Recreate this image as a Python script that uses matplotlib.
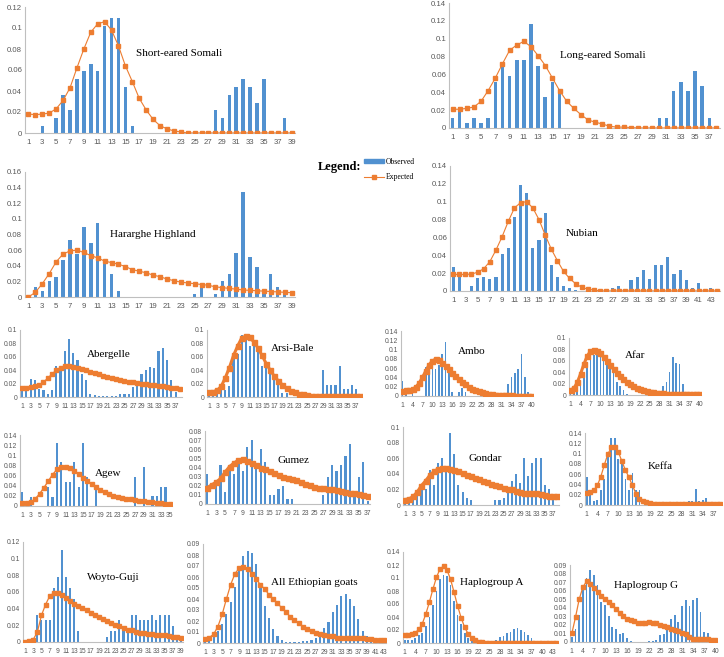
#!/usr/bin/env python3
import matplotlib
matplotlib.use("Agg")
import matplotlib.pyplot as plt
from matplotlib.lines import Line2D
from matplotlib.patches import Patch

# observed / expected mismatch distributions
short_obs = [0, 0, 0.007, 0, 0.014, 0.036, 0.022, 0.051, 0.059, 0.066, 0.059, 0.102, 0.110, 0.110, 0.044, 0.007,
             0, 0, 0, 0, 0, 0, 0, 0, 0, 0, 0,
             0.022, 0.014, 0.036, 0.044, 0.051, 0.044, 0.029, 0.051, 0, 0, 0.014, 0]
short_exp = [0.018, 0.0175, 0.018, 0.019, 0.023, 0.031, 0.043, 0.062, 0.080, 0.096, 0.104, 0.106, 0.098, 0.083,
             0.064, 0.049, 0.033, 0.022, 0.013, 0.007, 0.004, 0.002, 0.001,
             0, 0, 0, 0, 0, 0, 0, 0, 0, 0, 0, 0, 0, 0, 0, 0]

long_obs = [0.011, 0.023, 0.0055, 0.011, 0.0055, 0.011, 0.052, 0.070, 0.058, 0.076, 0.076, 0.117, 0.070, 0.035,
            0.052, 0.041, 0, 0, 0, 0, 0, 0, 0, 0, 0, 0, 0, 0, 0,
            0.011, 0.011, 0.041, 0.052, 0.041, 0.064, 0.047, 0.011, 0]
long_exp = [0.021, 0.021, 0.022, 0.0235, 0.030, 0.042, 0.056, 0.072, 0.087, 0.093, 0.097, 0.091, 0.081, 0.070,
            0.056, 0.042, 0.030, 0.022, 0.015, 0.009, 0.0065, 0.0045, 0.002, 0.001, 0.001, 0.0005,
            0, 0, 0, 0, 0, 0, 0, 0, 0, 0, 0, 0]

harar_obs = [0, 0.013, 0.008, 0.021, 0.025, 0.047, 0.073, 0.055, 0.090, 0.069, 0.095, 0.042, 0.030, 0.008,
             0, 0, 0, 0, 0, 0, 0, 0, 0, 0,
             0.004, 0.017, 0, 0.004, 0.021, 0.030, 0.056, 0.134, 0.051, 0.038, 0.008, 0.030, 0.013, 0.004, 0]
harar_exp = [0.0, 0.006, 0.017, 0.030, 0.045, 0.055, 0.059, 0.060, 0.057, 0.053, 0.050, 0.046, 0.044, 0.042,
             0.039, 0.035, 0.033, 0.031, 0.028, 0.026, 0.023, 0.021, 0.019, 0.018, 0.017, 0.016, 0.015, 0.013,
             0.012, 0.011, 0.010, 0.009, 0.0085, 0.008, 0.0075, 0.007, 0.0065, 0.006, 0.0055]

nubian_obs = [0.027, 0.019, 0, 0.006, 0.015, 0.016, 0.013, 0.016, 0.041, 0.048, 0.083, 0.119, 0.110, 0.048,
              0.057, 0.087, 0.029, 0.016, 0.006, 0.003, 0.001, 0, 0, 0, 0, 0, 0.003, 0.006, 0, 0.012, 0.016,
              0.024, 0.013, 0.029, 0.029, 0.038, 0.019, 0.024, 0.012, 0.003, 0.009, 0, 0.003, 0]
nubian_exp = [0.0185, 0.0185, 0.0185, 0.019, 0.021, 0.025, 0.033, 0.046, 0.061, 0.078, 0.093, 0.099, 0.100,
              0.093, 0.080, 0.063, 0.047, 0.034, 0.022, 0.014, 0.008, 0.004, 0.002, 0.001,
              0, 0, 0, 0, 0, 0, 0, 0, 0, 0, 0, 0, 0, 0, 0, 0, 0, 0, 0, 0]

aber_obs = [0.010, 0.017, 0.027, 0.025, 0.012, 0.010, 0.005, 0.011, 0.047, 0.045, 0.068, 0.087, 0.065, 0.055,
            0.034, 0.025, 0.005, 0.003, 0.001, 0.001, 0.001, 0.001, 0.002, 0.004, 0.004, 0.004, 0.015, 0.022,
            0.034, 0.040, 0.045, 0.044, 0.068, 0.073, 0.055, 0.026, 0.007, 0.0]
aber_exp = [0.013, 0.014, 0.015, 0.016, 0.018, 0.022, 0.028, 0.034, 0.040, 0.044, 0.046, 0.046, 0.045, 0.044,
            0.042, 0.040, 0.038, 0.036, 0.034, 0.032, 0.030, 0.029, 0.027, 0.026, 0.024, 0.023, 0.022, 0.021,
            0.020, 0.019, 0.018, 0.018, 0.017, 0.016, 0.015, 0.014, 0.013, 0.012]

arsi_obs = [0.006, 0.005, 0.005, 0.013, 0.011, 0.017, 0.056, 0.064, 0.093, 0.086, 0.076, 0.076, 0.070, 0.047,
            0.047, 0.035, 0.029, 0.023, 0.006, 0.006, 0, 0, 0, 0, 0, 0, 0, 0,
            0.041, 0.018, 0.018, 0.018, 0.047, 0.012, 0.012, 0.018, 0.012, 0]
arsi_exp = [0.008, 0.008, 0.010, 0.016, 0.029, 0.044, 0.062, 0.076, 0.088, 0.091, 0.089, 0.082, 0.073, 0.062,
            0.050, 0.040, 0.031, 0.024, 0.018, 0.013, 0.009, 0.007, 0.005, 0.004, 0.003, 0.002, 0.0015, 0.001,
            0.001, 0.001, 0.001, 0.001, 0.001, 0.001, 0.001, 0.001, 0.001, 0.001]

ambo_obs = [0.033, 0.008, 0, 0.008, 0, 0, 0, 0.062, 0.066, 0.058, 0.058, 0.067, 0.091, 0.116, 0.050, 0.008,
            0, 0.008, 0.017, 0.008, 0, 0, 0, 0, 0, 0, 0, 0, 0, 0, 0, 0,
            0.025, 0.041, 0.050, 0.058, 0.091, 0.041, 0.008, 0]
ambo_exp = [0.011, 0.012, 0.013, 0.015, 0.019, 0.028, 0.040, 0.054, 0.067, 0.076, 0.079, 0.077, 0.072, 0.065,
            0.058, 0.050, 0.043, 0.036, 0.030, 0.025, 0.020, 0.016, 0.013, 0.010, 0.008, 0.006, 0.005, 0.004,
            0.003, 0.002, 0.002, 0.002, 0.002, 0.002, 0.001, 0.001, 0.001, 0.001, 0.001, 0.001]

afar_obs = [0.006, 0.010, 0.012, 0.025, 0.037, 0.058, 0.065, 0.070, 0.075, 0.075, 0.077, 0.064, 0.052, 0.040,
            0.022, 0.016, 0.008, 0.002, 0, 0, 0, 0, 0, 0, 0, 0, 0,
            0.002, 0.015, 0.022, 0.040, 0.066, 0.057, 0.055, 0.020, 0.005, 0.003, 0, 0, 0]
afar_exp = [0.009, 0.012, 0.022, 0.037, 0.054, 0.068, 0.077, 0.079, 0.078, 0.073, 0.066, 0.059, 0.052, 0.045,
            0.039, 0.033, 0.028, 0.023, 0.019, 0.016, 0.013, 0.011, 0.009, 0.007, 0.006, 0.005, 0.004, 0.004,
            0.003, 0.002, 0.002, 0.002, 0.002, 0.001, 0.001, 0.001, 0.001, 0.001, 0.001, 0.001]

agew_obs = [0.028, 0, 0.018, 0, 0, 0, 0.038, 0.018, 0.124, 0.086, 0.047, 0.047, 0.086, 0.038, 0.124, 0.057,
            0, 0.038, 0, 0, 0, 0, 0, 0, 0, 0, 0.057, 0, 0.076, 0, 0.019, 0.019, 0.038, 0.038, 0]
agew_exp = [0.005, 0.006, 0.008, 0.014, 0.024, 0.036, 0.049, 0.062, 0.072, 0.076, 0.077, 0.075, 0.070, 0.063,
            0.056, 0.049, 0.043, 0.037, 0.031, 0.027, 0.023, 0.020, 0.018, 0.016, 0.014, 0.013, 0.012, 0.010,
            0.009, 0.008, 0.007, 0.006, 0.005, 0.004, 0.003]

gumez_obs = [0.033, 0, 0.020, 0.043, 0.013, 0.040, 0.033, 0.046, 0.036, 0.063, 0.070, 0.040, 0.060, 0.046,
             0.010, 0.010, 0.016, 0.020, 0.006, 0.006, 0, 0, 0, 0, 0, 0,
             0.010, 0.030, 0.043, 0.036, 0.043, 0.053, 0.066, 0.013, 0.030, 0.046, 0.003]
gumez_exp = [0.018, 0.021, 0.024, 0.028, 0.035, 0.041, 0.045, 0.048, 0.049, 0.047, 0.045, 0.043, 0.040, 0.038,
             0.036, 0.034, 0.032, 0.030, 0.028, 0.027, 0.026, 0.024, 0.022, 0.021, 0.019, 0.018, 0.017, 0.016,
             0.016, 0.015, 0.014, 0.013, 0.012, 0.012, 0.011, 0.010, 0.009]

gondar_obs = [0.004, 0.006, 0.010, 0.017, 0.020, 0.020, 0.045, 0.026, 0.054, 0.060, 0.047, 0.092, 0.065, 0.026,
              0.017, 0.009, 0.006, 0, 0, 0, 0, 0, 0.006, 0.006, 0.009, 0.017, 0.031, 0.040, 0.028, 0.060,
              0.037, 0.054, 0.060, 0.060, 0.026, 0.020, 0.011, 0]
gondar_exp = [0.007, 0.008, 0.011, 0.017, 0.025, 0.031, 0.038, 0.043, 0.046, 0.047, 0.047, 0.046, 0.045, 0.043,
              0.041, 0.039, 0.037, 0.035, 0.033, 0.031, 0.029, 0.027, 0.026, 0.024, 0.022, 0.021, 0.020, 0.018,
              0.017, 0.016, 0.016, 0.015, 0.015, 0.014, 0.013, 0.012, 0.011, 0.011]

keffa_obs = [0.054, 0.024, 0.008, 0.010, 0.030, 0.051, 0.094, 0.130, 0.130, 0.090, 0.082, 0.051, 0.030, 0.062,
             0.030, 0.030, 0, 0, 0, 0, 0, 0, 0, 0, 0, 0, 0, 0, 0,
             0.008, 0.008, 0.032, 0.008, 0.010, 0.014, 0, 0, 0, 0]
keffa_exp = [0.024, 0.025, 0.029, 0.038, 0.055, 0.078, 0.099, 0.112, 0.113, 0.103, 0.085, 0.068, 0.054, 0.038,
             0.022, 0.012, 0.008, 0.005, 0.003, 0.002, 0.001, 0.001, 0.001, 0.001, 0.001, 0.001, 0.001, 0.001,
             0.001, 0.001, 0.001, 0.001, 0.001, 0.001, 0.001, 0.001, 0.001, 0.001, 0.001]

woyto_obs = [0, 0, 0, 0.032, 0.026, 0.026, 0.026, 0.065, 0.078, 0.111, 0.078, 0.065, 0.052, 0.013,
             0, 0, 0, 0, 0, 0, 0.006, 0.013, 0.013, 0.026, 0.019, 0.013, 0.032, 0.032, 0.026, 0.026, 0.026,
             0.032, 0.026, 0.032, 0.032, 0.032, 0.019, 0.006, 0.006]
woyto_exp = [0.0, 0.001, 0.003, 0.012, 0.032, 0.045, 0.055, 0.059, 0.059, 0.057, 0.053, 0.049, 0.046, 0.043,
             0.041, 0.038, 0.035, 0.033, 0.030, 0.028, 0.025, 0.023, 0.021, 0.019, 0.017, 0.015, 0.014, 0.012,
             0.011, 0.011, 0.010, 0.010, 0.009, 0.008, 0.008, 0.007, 0.006, 0.006, 0.005]

allet_obs = [0.003, 0.004, 0.007, 0.011, 0.017, 0.026, 0.037, 0.051, 0.068, 0.079, 0.084, 0.082, 0.072, 0.052,
             0.034, 0.023, 0.013, 0.006, 0.003, 0.001, 0.001, 0.001, 0.001, 0.002, 0.002, 0.003, 0.005, 0.008,
             0.014, 0.019, 0.028, 0.035, 0.043, 0.045, 0.040, 0.034, 0.022, 0.011, 0.006, 0.003, 0.002, 0.001,
             0.001]
allet_exp = [0.004, 0.005, 0.008, 0.015, 0.026, 0.040, 0.053, 0.063, 0.068, 0.069, 0.067, 0.063, 0.058, 0.053,
             0.049, 0.044, 0.040, 0.036, 0.032, 0.028, 0.024, 0.021, 0.018, 0.015, 0.013, 0.011, 0.009, 0.008,
             0.007, 0.006, 0.006, 0.005, 0.005, 0.005, 0.005, 0.005, 0.005, 0.005, 0.004, 0.004, 0.003, 0.003,
             0.003]

hapa_obs = [0.004, 0.005, 0.005, 0.008, 0.012, 0.016, 0.026, 0.040, 0.059, 0.080, 0.098, 0.104, 0.103, 0.090,
            0.064, 0.043, 0.029, 0.016, 0.008, 0.004, 0.002, 0.001, 0.001, 0.001, 0.001, 0.003, 0.005, 0.009,
            0.011, 0.015, 0.017, 0.022, 0.023, 0.020, 0.017, 0.012, 0.007, 0.003, 0.001, 0, 0, 0, 0, 0]
hapa_exp = [0.013, 0.013, 0.014, 0.016, 0.021, 0.030, 0.045, 0.063, 0.083, 0.101, 0.114, 0.118, 0.112, 0.098,
            0.078, 0.057, 0.039, 0.024, 0.014, 0.008, 0.004, 0.002, 0.001, 0.0005, 0.0005, 0.0005, 0.0005,
            0.0005, 0.0005, 0.0005, 0.0005, 0.0005, 0.0005, 0.0005, 0.0005, 0.0005, 0.0005, 0.0005, 0.0005,
            0.0005, 0.0005, 0.0005, 0.0005, 0.0005]

hapg_obs = [0.006, 0.015, 0.032, 0.064, 0.075, 0.084, 0.078, 0.067, 0.047, 0.043, 0.030, 0.018, 0.015, 0.009,
            0.010, 0.005, 0.001, 0, 0, 0, 0, 0.001, 0.001, 0.002, 0.008, 0.009, 0.019, 0.027, 0.032, 0.023,
            0.042, 0.049, 0.042, 0.049, 0.051, 0.035, 0.012, 0.010, 0, 0]
hapg_exp = [0.010, 0.029, 0.050, 0.064, 0.071, 0.068, 0.063, 0.058, 0.054, 0.050, 0.047, 0.043, 0.038, 0.034,
            0.030, 0.027, 0.026, 0.024, 0.022, 0.022, 0.022, 0.023, 0.022, 0.022, 0.020, 0.019, 0.017, 0.015,
            0.014, 0.013, 0.011, 0.009, 0.006, 0.004, 0.003, 0.003, 0.003, 0.003, 0.002, 0.002]

names = ["Short-eared Somali", "Long-eared Somali", "Hararghe Highland", "Nubian",
         "Abergelle", "Arsi-Bale", "Ambo", "Afar",
         "Agew", "Gumez", "Gondar", "Keffa",
         "Woyto-Guji", "All Ethiopian goats", "Haplogroup A", "Haplogroup G"]
observed = [short_obs, long_obs, harar_obs, nubian_obs, aber_obs, arsi_obs, ambo_obs, afar_obs,
            agew_obs, gumez_obs, gondar_obs, keffa_obs, woyto_obs, allet_obs, hapa_obs, hapg_obs]
expected = [short_exp, long_exp, harar_exp, nubian_exp, aber_exp, arsi_exp, ambo_exp, afar_exp,
            agew_exp, gumez_exp, gondar_exp, keffa_exp, woyto_exp, allet_exp, hapa_exp, hapg_exp]
y_max = [0.12, 0.14, 0.16, 0.14, 0.1, 0.1, 0.14, 0.1, 0.14, 0.08, 0.1, 0.14, 0.12, 0.09, 0.14, 0.09]
y_step = [0.02, 0.02, 0.02, 0.02, 0.02, 0.02, 0.02, 0.02, 0.02, 0.01, 0.02, 0.02, 0.02, 0.01, 0.02, 0.01]
x_step = [2, 2, 2, 2, 2, 2, 3, 3, 2, 2, 2, 3, 2, 2, 3, 3]

# layout (pixel boxes x0, x1, top, bottom), label spot (axes fraction), line width
boxes = [(25, 295, 7, 133), (449, 720, 3, 128), (25, 295, 172, 297), (450, 720, 166, 291),
         (20, 182, 330, 397), (207, 362, 330, 397), (401, 533, 331, 396), (569, 701, 338, 395),
         (20, 172, 435, 506), (205, 370, 431, 504), (403, 559, 427, 505), (585, 722, 433, 505),
         (23, 183, 542, 642), (203, 386, 544, 643), (403, 558, 552, 643), (570, 717, 565, 642)]
label_xy = [(0.41, 0.63), (0.41, 0.58), (0.315, 0.5), (0.43, 0.46),
            (0.41, 0.64), (0.41, 0.72), (0.43, 0.69), (0.42, 0.70),
            (0.49, 0.46), (0.44, 0.59), (0.42, 0.59), (0.46, 0.54),
            (0.40, 0.64), (0.37, 0.61), (0.37, 0.66), (0.30, 0.74)]
line_w = [0.8, 0.8, 0.8, 0.8, 1.0, 2.2, 2.2, 2.2, 1.0, 2.2, 2.2, 0.9, 0.9, 0.9, 0.9, 0.9]
mark_s = [2.2, 2.2, 2.4, 2.4, 2.6, 3.6, 3.6, 3.6, 2.4, 3.6, 3.6, 2.4, 2.4, 2.2, 2.2, 2.4]

BLUE = "#5191D0"
ORANGE = "#ED7D31"
GRID = "#BFBFBF"
TXT = "#595959"
W, H = 724, 657


def main() -> None:
    fig = plt.figure(figsize=(W / 100, H / 100), dpi=100)

    for i, name in enumerate(names):
        x0, x1, top, bot = boxes[i]
        ax = fig.add_axes([x0 / W, 1 - bot / H, (x1 - x0) / W, (bot - top) / H])
        obs = observed[i]
        exp = expected[i]
        n = len(obs)
        cats = list(range(1, n + 1))
        ax.bar(cats, obs, width=0.5, color=BLUE, zorder=2)
        ax.plot(cats, exp, color=ORANGE, lw=line_w[i], marker="s", ms=mark_s[i],
                mec=ORANGE, mfc=ORANGE, zorder=3)
        ax.set_xlim(0.5, n + 0.5)
        ax.set_ylim(0, y_max[i])
        small = i >= 4
        fs = 4.9 if small else 5.6
        yt = [k * y_step[i] for k in range(int(round(y_max[i] / y_step[i])) + 1)]
        ax.set_yticks(yt)
        ax.set_yticklabels([f"{v:g}" for v in yt])
        xt = cats[::x_step[i]]
        ax.set_xticks(xt)
        ax.set_xticklabels([str(c) for c in xt])
        ax.tick_params(axis="both", length=0, labelsize=fs, colors=TXT, pad=2)
        ax.tick_params(axis="x", pad=4)
        for side in ("top", "right"):
            ax.spines[side].set_visible(False)
        for side in ("left", "bottom"):
            ax.spines[side].set_color(GRID)
            ax.spines[side].set_linewidth(0.8)
        ax.set_facecolor("none")
        for lab in ax.get_xticklabels() + ax.get_yticklabels():
            lab.set_fontfamily("Liberation Sans")
        lx, ly = label_xy[i]
        ax.text(lx, ly, name, transform=ax.transAxes, ha="left", va="center",
                fontsize=8, family="Liberation Serif", color="black", zorder=5)

    fig.text(318 / W, 1 - 167 / H, "Legend:", fontsize=9, fontweight="bold",
             family="Liberation Serif", va="center", ha="left")
    handles = [Patch(facecolor=BLUE, edgecolor=BLUE, label="Observed"),
               Line2D([0], [0], color=ORANGE, lw=0.8, marker="s", ms=2.4, label="Expected")]
    fig.legend(handles=handles, loc="upper left", bbox_to_anchor=(364 / W, 1 - 158 / H),
               frameon=False, prop={"family": "Liberation Serif", "size": 5.5},
               handlelength=2.6, handleheight=0.35, handletextpad=0.3, labelspacing=0.9,
               borderaxespad=0, borderpad=0)

    fig.savefig("out.png", dpi=100)
    plt.close(fig)


if __name__ == "__main__":
    main()
